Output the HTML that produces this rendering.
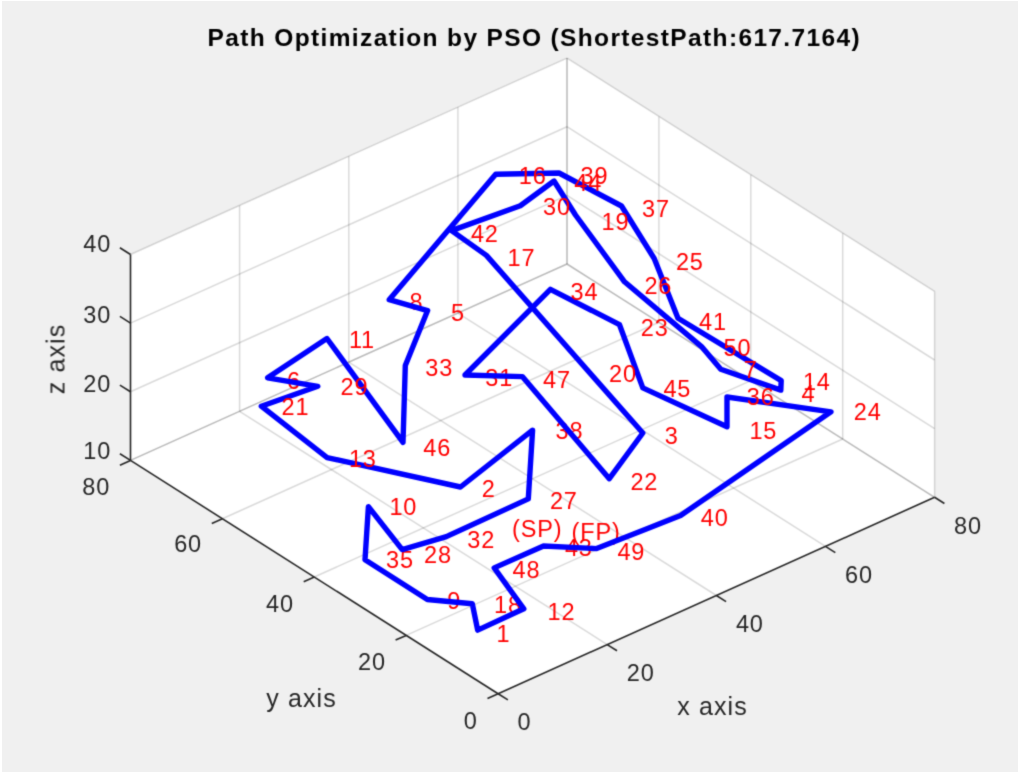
<!DOCTYPE html>
<html><head><meta charset="utf-8"><title>Path Optimization by PSO</title>
<style>
html,body{margin:0;padding:0;background:#fff;}
body{width:1020px;height:774px;overflow:hidden;position:relative;}
#fig{position:absolute;left:2px;top:1px;width:1015.5px;height:771px;background:#f0f0f0;}
svg{position:absolute;left:0;top:0;}
text{font-family:"Liberation Sans",sans-serif;}
</style></head><body>
<div id="fig"></div>
<svg width="1020" height="774" viewBox="0 0 1020 774">
<defs><filter id="soft" x="0" y="0" width="1020" height="774" filterUnits="userSpaceOnUse" color-interpolation-filters="sRGB"><feConvolveMatrix order="3" kernelMatrix="0.0225 0.1050 0.0225 0.1050 0.4900 0.1050 0.0225 0.1050 0.0225" edgeMode="duplicate" preserveAlpha="false"/></filter></defs>
<g filter="url(#soft)">
<polygon points="498.1,693.7 934.6,497.3 934.6,291.4 567.0,58.1 130.5,254.5 130.5,460.4" fill="#fff"/>
<line x1="607.2" y1="644.6" x2="239.6" y2="411.3" stroke="#262626" stroke-opacity="0.17" stroke-width="1.5"/>
<line x1="406.2" y1="635.4" x2="842.7" y2="439.0" stroke="#262626" stroke-opacity="0.17" stroke-width="1.5"/>
<line x1="716.4" y1="595.5" x2="348.8" y2="362.2" stroke="#262626" stroke-opacity="0.17" stroke-width="1.5"/>
<line x1="314.3" y1="577.0" x2="750.8" y2="380.6" stroke="#262626" stroke-opacity="0.17" stroke-width="1.5"/>
<line x1="825.5" y1="546.4" x2="457.9" y2="313.1" stroke="#262626" stroke-opacity="0.17" stroke-width="1.5"/>
<line x1="222.4" y1="518.7" x2="658.9" y2="322.3" stroke="#262626" stroke-opacity="0.17" stroke-width="1.5"/>
<line x1="934.6" y1="497.3" x2="567.0" y2="264.0" stroke="#262626" stroke-opacity="0.17" stroke-width="1.5"/>
<line x1="130.5" y1="460.4" x2="567.0" y2="264.0" stroke="#262626" stroke-opacity="0.17" stroke-width="1.5"/>
<line x1="239.6" y1="411.3" x2="239.6" y2="205.4" stroke="#262626" stroke-opacity="0.17" stroke-width="1.5"/>
<line x1="348.8" y1="362.2" x2="348.8" y2="156.3" stroke="#262626" stroke-opacity="0.17" stroke-width="1.5"/>
<line x1="457.9" y1="313.1" x2="457.9" y2="107.2" stroke="#262626" stroke-opacity="0.17" stroke-width="1.5"/>
<line x1="567.0" y1="264.0" x2="567.0" y2="58.1" stroke="#262626" stroke-opacity="0.17" stroke-width="1.5"/>
<line x1="567.0" y1="264.0" x2="567.0" y2="58.1" stroke="#262626" stroke-opacity="0.17" stroke-width="1.5"/>
<line x1="130.5" y1="460.4" x2="567.0" y2="264.0" stroke="#262626" stroke-opacity="0.17" stroke-width="1.5"/>
<line x1="567.0" y1="264.0" x2="934.6" y2="497.3" stroke="#262626" stroke-opacity="0.17" stroke-width="1.5"/>
<line x1="130.5" y1="391.8" x2="567.0" y2="195.4" stroke="#262626" stroke-opacity="0.17" stroke-width="1.5"/>
<line x1="567.0" y1="195.4" x2="934.6" y2="428.7" stroke="#262626" stroke-opacity="0.17" stroke-width="1.5"/>
<line x1="130.5" y1="323.1" x2="567.0" y2="126.7" stroke="#262626" stroke-opacity="0.17" stroke-width="1.5"/>
<line x1="567.0" y1="126.7" x2="934.6" y2="360.0" stroke="#262626" stroke-opacity="0.17" stroke-width="1.5"/>
<line x1="130.5" y1="254.5" x2="567.0" y2="58.1" stroke="#262626" stroke-opacity="0.17" stroke-width="1.5"/>
<line x1="567.0" y1="58.1" x2="934.6" y2="291.4" stroke="#262626" stroke-opacity="0.17" stroke-width="1.5"/>
<line x1="934.6" y1="497.3" x2="934.6" y2="291.4" stroke="#262626" stroke-opacity="0.17" stroke-width="1.5"/>
<line x1="842.7" y1="439.0" x2="842.7" y2="233.1" stroke="#262626" stroke-opacity="0.17" stroke-width="1.5"/>
<line x1="750.8" y1="380.6" x2="750.8" y2="174.7" stroke="#262626" stroke-opacity="0.17" stroke-width="1.5"/>
<line x1="658.9" y1="322.3" x2="658.9" y2="116.4" stroke="#262626" stroke-opacity="0.17" stroke-width="1.5"/>
<line x1="498.1" y1="693.7" x2="934.6" y2="497.3" stroke="#262626" stroke-width="1.6"/>
<line x1="498.1" y1="693.7" x2="130.5" y2="460.4" stroke="#262626" stroke-width="1.6"/>
<line x1="130.5" y1="460.4" x2="130.5" y2="254.5" stroke="#262626" stroke-width="1.6"/>
<line x1="498.1" y1="693.7" x2="507.9" y2="699.9" stroke="#262626" stroke-width="1.6"/>
<line x1="498.1" y1="693.7" x2="487.5" y2="698.5" stroke="#262626" stroke-width="1.6"/>
<line x1="607.2" y1="644.6" x2="617.0" y2="650.8" stroke="#262626" stroke-width="1.6"/>
<line x1="406.2" y1="635.4" x2="395.6" y2="640.1" stroke="#262626" stroke-width="1.6"/>
<line x1="716.4" y1="595.5" x2="726.1" y2="601.7" stroke="#262626" stroke-width="1.6"/>
<line x1="314.3" y1="577.0" x2="303.7" y2="581.8" stroke="#262626" stroke-width="1.6"/>
<line x1="825.5" y1="546.4" x2="835.3" y2="552.6" stroke="#262626" stroke-width="1.6"/>
<line x1="222.4" y1="518.7" x2="211.8" y2="523.5" stroke="#262626" stroke-width="1.6"/>
<line x1="934.6" y1="497.3" x2="944.4" y2="503.5" stroke="#262626" stroke-width="1.6"/>
<line x1="130.5" y1="460.4" x2="119.9" y2="465.2" stroke="#262626" stroke-width="1.6"/>
<line x1="130.5" y1="460.4" x2="119.9" y2="453.7" stroke="#262626" stroke-width="1.6"/>
<line x1="130.5" y1="391.8" x2="119.9" y2="385.1" stroke="#262626" stroke-width="1.6"/>
<line x1="130.5" y1="323.1" x2="119.9" y2="316.4" stroke="#262626" stroke-width="1.6"/>
<line x1="130.5" y1="254.5" x2="119.9" y2="247.8" stroke="#262626" stroke-width="1.6"/>
<text x="409.5" y="310.3" text-anchor="start" fill="#f00" font-size="23.5" letter-spacing="0.9" >8</text>
<text x="287.0" y="388.7" text-anchor="start" fill="#f00" font-size="23.5" letter-spacing="0.9" >6</text>
<text x="485.2" y="385.7" text-anchor="start" fill="#f00" font-size="23.5" letter-spacing="0.9" >31</text>
<text x="555.6" y="439.1" text-anchor="start" fill="#f00" font-size="23.5" letter-spacing="0.9" >38</text>
<text x="512.0" y="537.4" text-anchor="start" fill="#f00" font-size="23.5" letter-spacing="0.9" >(SP)</text>
<text x="386.0" y="568.0" text-anchor="start" fill="#f00" font-size="23.5" letter-spacing="0.9" >35</text>
<text x="447.2" y="609.0" text-anchor="start" fill="#f00" font-size="23.5" letter-spacing="0.9" >9</text>
<text x="494.1" y="613.2" text-anchor="start" fill="#f00" font-size="23.5" letter-spacing="0.9" >18</text>
<text x="564.9" y="555.8" text-anchor="start" fill="#f00" font-size="23.5" letter-spacing="0.9" >43</text>
<text x="571.5" y="540.2" text-anchor="start" fill="#f00" font-size="23.5" letter-spacing="0.9" >(FP)</text>
<polygon points="495.7,174.3 559.0,173.0 621.5,206.0 654.2,258.5 678.0,318.3 781.2,380.6 780.8,390.1 720.8,369.3 701.5,346.6 624.5,281.8 575.5,215.0 554.0,181.0 520.3,205.7 451.5,230.6 486.4,255.4 642.8,433.0 609.3,478.7 522.3,376.6 465.0,375.0 550.4,289.3 619.5,324.7 642.8,387.9 727.0,426.8 727.0,397.0 831.0,411.8 680.6,515.5 596.6,548.6 543.5,546.0 494.2,567.9 523.8,608.8 477.7,630.1 472.3,603.8 427.3,599.5 365.0,559.8 368.4,506.7 402.2,549.6 446.4,536.6 528.3,498.9 532.6,430.2 460.5,487.0 327.1,457.6 261.3,406.2 317.8,386.3 267.6,377.8 326.9,338.5 403.0,442.4 405.3,365.5 427.6,310.6 389.2,299.7" fill="none" stroke="#0000ff" stroke-width="5.4" stroke-linejoin="round"/>
<text x="517.6" y="730.4" text-anchor="start" fill="#262626" font-size="23.5" letter-spacing="0.9" >0</text>
<text x="477.8" y="728.6" text-anchor="end" fill="#262626" font-size="23.5" letter-spacing="0.9" >0</text>
<text x="626.7" y="681.3" text-anchor="start" fill="#262626" font-size="23.5" letter-spacing="0.9" >20</text>
<text x="385.9" y="670.3" text-anchor="end" fill="#262626" font-size="23.5" letter-spacing="0.9" >20</text>
<text x="735.9" y="632.2" text-anchor="start" fill="#262626" font-size="23.5" letter-spacing="0.9" >40</text>
<text x="294.0" y="612.0" text-anchor="end" fill="#262626" font-size="23.5" letter-spacing="0.9" >40</text>
<text x="845.0" y="583.1" text-anchor="start" fill="#262626" font-size="23.5" letter-spacing="0.9" >60</text>
<text x="202.1" y="552.1" text-anchor="end" fill="#262626" font-size="23.5" letter-spacing="0.9" >60</text>
<text x="954.1" y="534.0" text-anchor="start" fill="#262626" font-size="23.5" letter-spacing="0.9" >80</text>
<text x="110.2" y="495.3" text-anchor="end" fill="#262626" font-size="23.5" letter-spacing="0.9" >80</text>
<text x="111.2" y="459.3" text-anchor="end" fill="#262626" font-size="23.5" letter-spacing="0.9" >10</text>
<text x="111.2" y="391.5" text-anchor="end" fill="#262626" font-size="23.5" letter-spacing="0.9" >20</text>
<text x="111.2" y="322.5" text-anchor="end" fill="#262626" font-size="23.5" letter-spacing="0.9" >30</text>
<text x="111.2" y="252.4" text-anchor="end" fill="#262626" font-size="23.5" letter-spacing="0.9" >40</text>
<text x="712.5" y="715.4" text-anchor="middle" fill="#262626" font-size="25" letter-spacing="0.9" style="letter-spacing:1.1px">x axis</text>
<text x="301.5" y="706.9" text-anchor="middle" fill="#262626" font-size="25" letter-spacing="0.9" style="letter-spacing:1.1px">y axis</text>
<text transform="translate(64.5,359) rotate(-90)" text-anchor="middle" fill="#262626" font-size="25" letter-spacing="1.1">z axis</text>
<text x="534.3" y="46.4" text-anchor="middle" fill="#000" font-size="24.5" letter-spacing="1.36" font-weight="bold">Path Optimization by PSO (ShortestPath:617.7164)</text>
<text x="470.9" y="242.2" text-anchor="start" fill="#f00" font-size="23.5" letter-spacing="0.9" >42</text>
<text x="450.9" y="321.1" text-anchor="start" fill="#f00" font-size="23.5" letter-spacing="0.9" >5</text>
<text x="348.9" y="347.7" text-anchor="start" fill="#f00" font-size="23.5" letter-spacing="0.9" >11</text>
<text x="518.8" y="184.3" text-anchor="start" fill="#f00" font-size="23.5" letter-spacing="0.9" >16</text>
<text x="580.6" y="183.5" text-anchor="start" fill="#f00" font-size="23.5" letter-spacing="0.9" >39</text>
<text x="574.3" y="191.0" text-anchor="start" fill="#f00" font-size="23.5" letter-spacing="0.9" >44</text>
<text x="543.0" y="215.4" text-anchor="start" fill="#f00" font-size="23.5" letter-spacing="0.9" >30</text>
<text x="601.6" y="229.9" text-anchor="start" fill="#f00" font-size="23.5" letter-spacing="0.9" >19</text>
<text x="642.1" y="216.6" text-anchor="start" fill="#f00" font-size="23.5" letter-spacing="0.9" >37</text>
<text x="507.5" y="265.6" text-anchor="start" fill="#f00" font-size="23.5" letter-spacing="0.9" >17</text>
<text x="675.9" y="270.2" text-anchor="start" fill="#f00" font-size="23.5" letter-spacing="0.9" >25</text>
<text x="644.4" y="293.7" text-anchor="start" fill="#f00" font-size="23.5" letter-spacing="0.9" >26</text>
<text x="570.6" y="299.7" text-anchor="start" fill="#f00" font-size="23.5" letter-spacing="0.9" >34</text>
<text x="640.8" y="335.6" text-anchor="start" fill="#f00" font-size="23.5" letter-spacing="0.9" >23</text>
<text x="699.0" y="329.9" text-anchor="start" fill="#f00" font-size="23.5" letter-spacing="0.9" >41</text>
<text x="723.6" y="356.3" text-anchor="start" fill="#f00" font-size="23.5" letter-spacing="0.9" >50</text>
<text x="743.7" y="377.6" text-anchor="start" fill="#f00" font-size="23.5" letter-spacing="0.9" >7</text>
<text x="663.4" y="397.4" text-anchor="start" fill="#f00" font-size="23.5" letter-spacing="0.9" >45</text>
<text x="746.7" y="405.2" text-anchor="start" fill="#f00" font-size="23.5" letter-spacing="0.9" >36</text>
<text x="802.9" y="390.2" text-anchor="start" fill="#f00" font-size="23.5" letter-spacing="0.9" >14</text>
<text x="801.5" y="401.5" text-anchor="start" fill="#f00" font-size="23.5" letter-spacing="0.9" >4</text>
<text x="853.8" y="420.3" text-anchor="start" fill="#f00" font-size="23.5" letter-spacing="0.9" >24</text>
<text x="749.4" y="439.4" text-anchor="start" fill="#f00" font-size="23.5" letter-spacing="0.9" >15</text>
<text x="664.8" y="443.6" text-anchor="start" fill="#f00" font-size="23.5" letter-spacing="0.9" >3</text>
<text x="340.5" y="394.5" text-anchor="start" fill="#f00" font-size="23.5" letter-spacing="0.9" >29</text>
<text x="281.5" y="415.1" text-anchor="start" fill="#f00" font-size="23.5" letter-spacing="0.9" >21</text>
<text x="425.3" y="375.7" text-anchor="start" fill="#f00" font-size="23.5" letter-spacing="0.9" >33</text>
<text x="348.9" y="467.0" text-anchor="start" fill="#f00" font-size="23.5" letter-spacing="0.9" >13</text>
<text x="423.3" y="455.7" text-anchor="start" fill="#f00" font-size="23.5" letter-spacing="0.9" >46</text>
<text x="543.0" y="387.5" text-anchor="start" fill="#f00" font-size="23.5" letter-spacing="0.9" >47</text>
<text x="609.0" y="381.7" text-anchor="start" fill="#f00" font-size="23.5" letter-spacing="0.9" >20</text>
<text x="630.4" y="489.8" text-anchor="start" fill="#f00" font-size="23.5" letter-spacing="0.9" >22</text>
<text x="481.7" y="497.3" text-anchor="start" fill="#f00" font-size="23.5" letter-spacing="0.9" >2</text>
<text x="389.4" y="515.3" text-anchor="start" fill="#f00" font-size="23.5" letter-spacing="0.9" >10</text>
<text x="549.9" y="508.9" text-anchor="start" fill="#f00" font-size="23.5" letter-spacing="0.9" >27</text>
<text x="467.3" y="548.0" text-anchor="start" fill="#f00" font-size="23.5" letter-spacing="0.9" >32</text>
<text x="424.1" y="563.0" text-anchor="start" fill="#f00" font-size="23.5" letter-spacing="0.9" >28</text>
<text x="512.5" y="578.1" text-anchor="start" fill="#f00" font-size="23.5" letter-spacing="0.9" >48</text>
<text x="547.5" y="619.5" text-anchor="start" fill="#f00" font-size="23.5" letter-spacing="0.9" >12</text>
<text x="496.6" y="641.6" text-anchor="start" fill="#f00" font-size="23.5" letter-spacing="0.9" >1</text>
<text x="617.4" y="559.8" text-anchor="start" fill="#f00" font-size="23.5" letter-spacing="0.9" >49</text>
<text x="700.8" y="526.4" text-anchor="start" fill="#f00" font-size="23.5" letter-spacing="0.9" >40</text>
</g>
</svg>
</body></html>
